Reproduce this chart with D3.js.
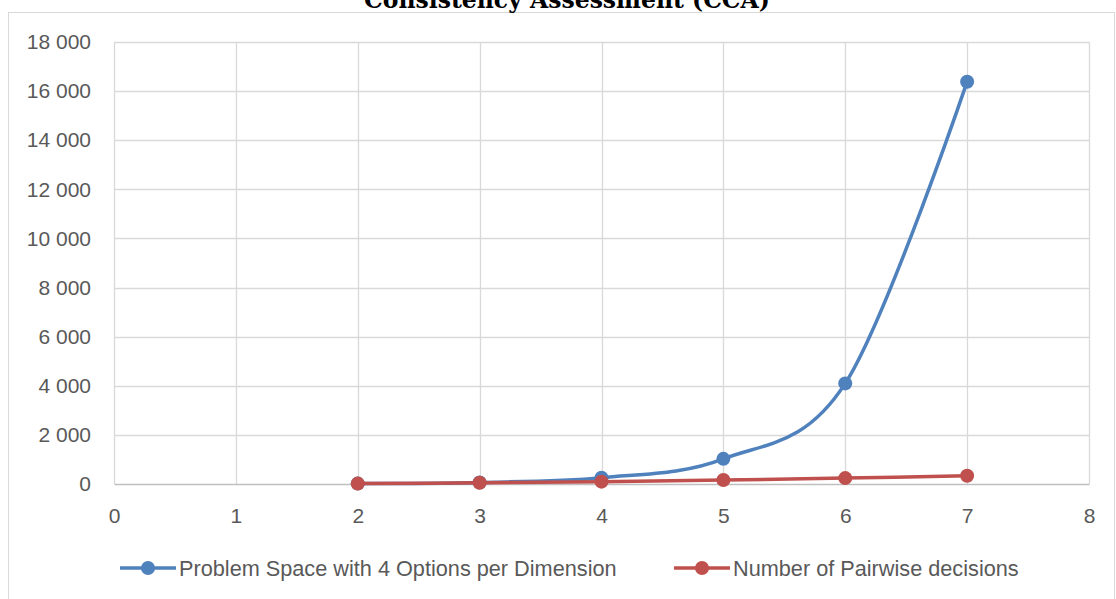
<!DOCTYPE html>
<html>
<head>
<meta charset="utf-8">
<script src="https://cdn.jsdelivr.net/npm/d3@7"></script>
<style>
  body { margin: 0; background: #fff; }
  text { font-family: "Liberation Sans", Arial, sans-serif; fill: #595959; }
</style>
</head>
<body>
<div id="chart"></div>
<script>
// data
var dims = [2, 3, 4, 5, 6, 7];
var problemSpace = [16, 64, 256, 1024, 4096, 16384];
var pairwise = [16, 48, 96, 160, 240, 336];
var seriesNames = ["Problem Space with 4 Options per Dimension", "Number of Pairwise decisions"];
var colours = ["#4F81BD", "#C0504D"];
var xTicks = [0, 1, 2, 3, 4, 5, 6, 7, 8];
var yTicks = [0, 2000, 4000, 6000, 8000, 10000, 12000, 14000, 16000, 18000];

var w = 1116, h = 599;
var margin = {top: 42, right: 27, bottom: 115, left: 114},
    width = w - margin.left - margin.right,
    height = h - margin.top - margin.bottom;

var svg = d3.select("#chart").append("svg")
    .attr("width", w)
    .attr("height", h);

// outer chart border
svg.append("rect")
    .attr("x", 8.5).attr("y", 12.5)
    .attr("width", w - 10).attr("height", h)
    .attr("fill", "none")
    .attr("stroke", "#D9D9D9");

// title sits mostly above the visible area, as in the source
svg.append("text")
    .attr("x", 567).attr("y", 8)
    .attr("text-anchor", "middle")
    .style("font-family", "'DejaVu Serif', 'Liberation Serif', serif")
    .style("font-weight", "bold")
    .style("font-size", "23.5px")
    .style("fill", "#000")
    .text("Consistency Assessment (CCA)");

var g = svg.append("g")
    .attr("transform", "translate(" + margin.left + "," + margin.top + ")");

var x = d3.scaleLinear().domain([0, 8]).range([0, width]);
var y = d3.scaleLinear().domain([0, 18000]).range([height, 0]);

var fmt = function(v) { return d3.format(",")(v).replace(/,/g, " "); };

// grid
g.append("g").selectAll("line")
    .data(yTicks.slice(1))
    .enter().append("line")
      .attr("x1", 0).attr("x2", width)
      .attr("y1", function(d) { return Math.round(y(d)) + 0.5; })
      .attr("y2", function(d) { return Math.round(y(d)) + 0.5; })
      .attr("stroke", "#D9D9D9").attr("stroke-width", 1.3);

g.append("g").selectAll("line")
    .data(xTicks)
    .enter().append("line")
      .attr("x1", function(d) { return Math.round(x(d)) + 0.5; })
      .attr("x2", function(d) { return Math.round(x(d)) + 0.5; })
      .attr("y1", 0).attr("y2", height)
      .attr("stroke", "#D9D9D9").attr("stroke-width", 1.3);

// axes
var xAxis = g.append("g")
    .attr("transform", "translate(0," + height + ")")
    .call(d3.axisBottom(x).tickValues(xTicks).tickSize(0).tickPadding(24));
xAxis.select(".domain").attr("stroke", "#BFBFBF").attr("stroke-width", 1.5);

var yAxis = g.append("g")
    .call(d3.axisLeft(y).tickValues(yTicks).tickSize(0).tickPadding(23).tickFormat(fmt));
yAxis.select(".domain").remove();

g.selectAll(".tick text")
    .style("font-family", "'Liberation Sans', Arial, sans-serif")
    .style("font-size", "21px")
    .attr("fill", "#595959");

// series
var series = [problemSpace, pairwise].map(function(vals, i) {
  return { name: seriesNames[i], colour: colours[i],
           points: dims.map(function(d, j) { return {x: d, y: vals[j]}; }) };
});

var line = d3.line()
    .x(function(d) { return x(d.x); })
    .y(function(d) { return y(d.y); })
    .curve(d3.curveCardinal.tension(0));

var s = g.selectAll(".series")
    .data(series)
    .enter().append("g");

s.append("path")
    .attr("d", function(d) { return line(d.points); })
    .attr("fill", "none")
    .attr("stroke", function(d) { return d.colour; })
    .attr("stroke-width", 3.5)
    .attr("stroke-linecap", "round");

s.selectAll("circle")
    .data(function(d) { return d.points.map(function(p) { p.c = d.colour; return p; }); })
    .enter().append("circle")
      .attr("cx", function(d) { return x(d.x); })
      .attr("cy", function(d) { return y(d.y); })
      .attr("r", 7)
      .attr("fill", function(d) { return d.c; });

// legend
var legendX = [120, 674];
var leg = svg.selectAll(".legend")
    .data(series)
    .enter().append("g")
      .attr("transform", function(d, i) { return "translate(" + legendX[i] + ",568)"; });

leg.append("line")
    .attr("x1", 0).attr("x2", 56)
    .attr("stroke", function(d) { return d.colour; })
    .attr("stroke-width", 3.5);
leg.append("circle")
    .attr("cx", 28).attr("r", 7)
    .attr("fill", function(d) { return d.colour; });
leg.append("text")
    .attr("x", 59).attr("dy", "0.35em")
    .style("font-size", "21.7px")
    .text(function(d) { return d.name; });
</script>
</body>
</html>
